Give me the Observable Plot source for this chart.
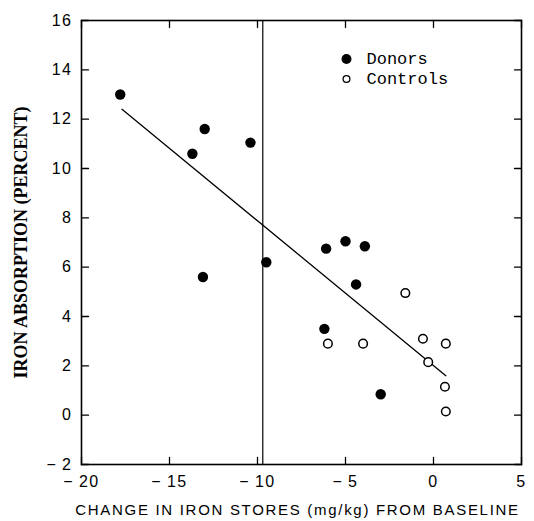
<!DOCTYPE html>
<html><head><meta charset="utf-8">
<script src="https://cdn.jsdelivr.net/npm/d3@7"></script>
<script src="https://cdn.jsdelivr.net/npm/@observablehq/plot@0.6"></script>
<style>body{margin:0;background:#fff;} svg{display:block;}</style>
</head><body><div id="chart"></div>
<script>
// Donors (filled circles)
const donorX = [-17.8, -13.7, -13.0, -10.4, -13.1, -9.5, -6.1, -5.0, -3.9, -4.4, -6.2, -3.0];
const donorY = [13.0, 10.6, 11.6, 11.05, 5.6, 6.2, 6.75, 7.05, 6.85, 5.3, 3.5, 0.85];
// Controls (open circles)
const controlX = [-1.6, -6.0, -4.0, -0.6, 0.7, -0.3, 0.65, 0.7];
const controlY = [4.95, 2.9, 2.9, 3.1, 2.9, 2.15, 1.15, 0.15];
// Regression line endpoints
const fitX = [-17.7, 0.7];
const fitY = [12.4, 1.6];
// Vertical reference line
const refX = [-9.7];
// Ticks
const xTicks = [-20, -15, -10, -5, 0, 5];
const yTicks = [-2, 0, 2, 4, 6, 8, 10, 12, 14, 16];
const legendLabels = ["Donors", "Controls"];
const xLabel = "CHANGE IN IRON STORES (mg/kg) FROM BASELINE";
const yLabel = "IRON ABSORPTION (PERCENT)";

const donors = donorX.map((x, i) => ({x, y: donorY[i]}));
const controls = controlX.map((x, i) => ({x, y: controlY[i]}));
const fit = fitX.map((x, i) => ({x, y: fitY[i]}));

const fmt = d => d < 0 ? "\u2212\u2009" + Math.abs(d) : String(d);
const tickShape = {draw(ctx, l) { ctx.moveTo(0, 0); ctx.lineTo(0, -l); }};
const sans = "'Liberation Sans', Arial, sans-serif";
const mono = "'Liberation Mono', 'DejaVu Sans Mono', monospace";

const chart = Plot.plot({
  width: 534, height: 521,
  marginTop: 20, marginBottom: 57, marginLeft: 81, marginRight: 13,
  x: {domain: [-20, 5]},
  y: {domain: [-2, 16]},
  style: {fontFamily: sans, background: "#fff", color: "#000"},
  marks: [
    Plot.frame({stroke: "#000", strokeWidth: 1.6}),
    // inward ticks
    Plot.vector(yTicks, {y: d => d, frameAnchor: "left", length: 7, rotate: 90, anchor: "start", shape: tickShape, stroke: "#000", strokeWidth: 1.3}),
    Plot.vector(yTicks, {y: d => d, frameAnchor: "right", length: 7, rotate: -90, anchor: "start", shape: tickShape, stroke: "#000", strokeWidth: 1.3}),
    Plot.vector(xTicks, {x: d => d, frameAnchor: "bottom", length: 7, rotate: 0, anchor: "start", shape: tickShape, stroke: "#000", strokeWidth: 1.3}),
    Plot.vector(xTicks, {x: d => d, frameAnchor: "top", length: 7, rotate: 180, anchor: "start", shape: tickShape, stroke: "#000", strokeWidth: 1.3}),
    Plot.axisX({anchor: "bottom", ticks: xTicks, tickSize: 0, tickPadding: 11, tickFormat: fmt, label: null, fontSize: 16, fontFamily: sans}),
    Plot.axisY({anchor: "left", ticks: yTicks, tickSize: 0, tickPadding: 9, tickFormat: fmt, label: null, fontSize: 16, fontFamily: sans}),
    Plot.ruleX(refX, {stroke: "#000", strokeWidth: 1.2}),
    Plot.line(fit, {x: "x", y: "y", stroke: "#000", strokeWidth: 1.3}),
    Plot.dot(donors, {x: "x", y: "y", r: 5.2, fill: "#000", stroke: "none"}),
    Plot.dot(controls, {x: "x", y: "y", r: 4.3, fill: "#fff", stroke: "#000", strokeWidth: 1.5}),
    // legend
    Plot.dot([legendLabels[0]], {frameAnchor: "top-left", dx: 265, dy: 38.5, r: 5, fill: "#000", stroke: "none"}),
    Plot.dot([legendLabels[1]], {frameAnchor: "top-left", dx: 265, dy: 58.5, r: 3.4, fill: "#fff", stroke: "#000", strokeWidth: 1.3}),
    Plot.text([legendLabels[0]], {text: d => d, frameAnchor: "top-left", dx: 285, dy: 38.5, textAnchor: "start", lineAnchor: "middle", fontSize: 17, fontFamily: mono, fill: "#000"}),
    Plot.text([legendLabels[1]], {text: d => d, frameAnchor: "top-left", dx: 285, dy: 58.5, textAnchor: "start", lineAnchor: "middle", fontSize: 17, fontFamily: mono, fill: "#000"}),
    // axis titles
    Plot.text([xLabel], {text: d => d, frameAnchor: "bottom", dx: -4, dy: 46, textAnchor: "middle", lineAnchor: "middle", fontSize: 15, fontFamily: sans, fill: "#000"}),
    Plot.text([yLabel], {text: d => d, frameAnchor: "left", dx: -60, rotate: -90, textAnchor: "middle", lineAnchor: "middle", fontSize: 18, fontWeight: "bold", fontFamily: "'Liberation Serif', 'Times New Roman', serif", fill: "#000"})
  ]
});
d3.select(chart).selectAll('g[aria-label="x-axis tick label"] text, g[aria-label="y-axis tick label"] text').style("letter-spacing", "1.5px");
d3.select(chart).selectAll("text").filter(function() { return this.textContent === xLabel; }).style("letter-spacing", "1.7px");
document.getElementById("chart").appendChild(chart);
</script>
</body></html>
